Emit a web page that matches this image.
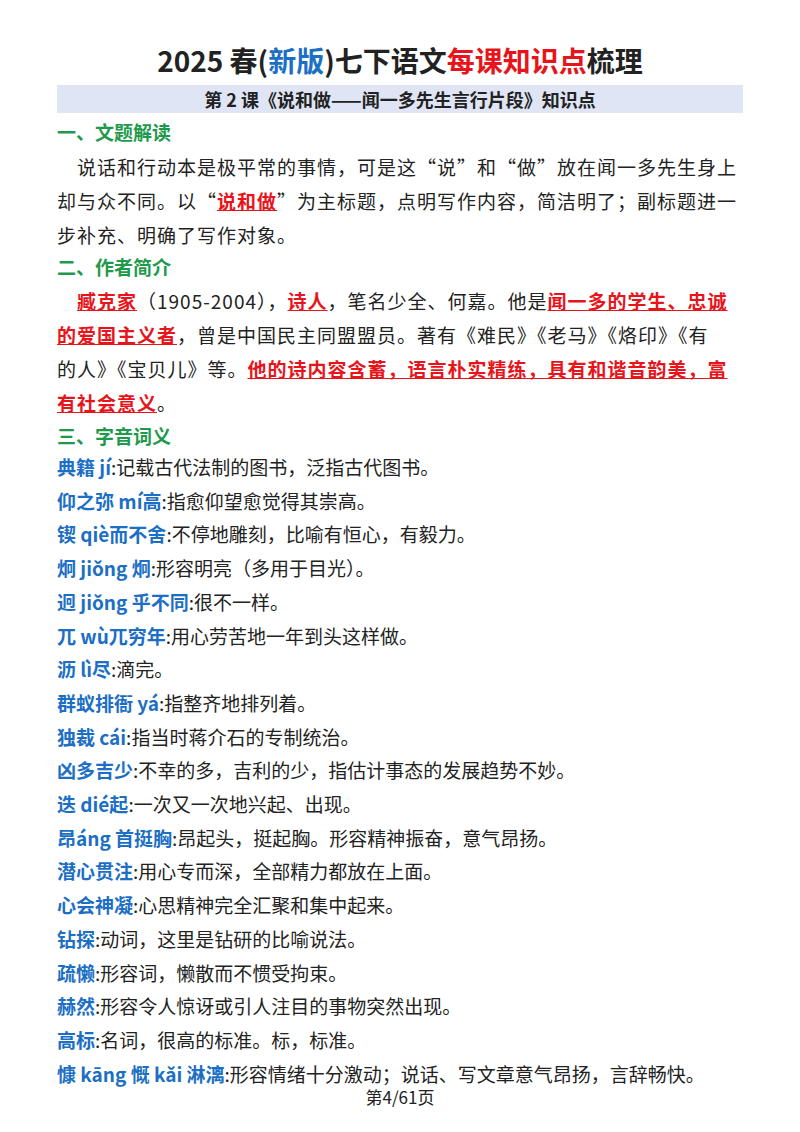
<!DOCTYPE html>
<html><head><meta charset="utf-8">
<script src="https://cdn.jsdelivr.net/npm/chart.js@4"></script>
<style>
body{margin:0;width:800px;height:1132px;background:#fff;font-family:"Noto Sans CJK SC",sans-serif;color:#222;position:relative;overflow:hidden}
.t{position:absolute;white-space:nowrap;font-size:19px}
.h{color:#1f9a4c;font-weight:bold}
.b{color:#1c6fc4;font-weight:bold}
.r{color:#e8141b;font-weight:bold;text-decoration:underline}
</style></head><body>
<div id="page"></div>
<script>
// 标题
var titulo = '2025 春(<span style="color:#1c6fc4">新版</span>)七下语文<span style="color:#e8141b">每课知识点</span>梳理';
var subtitulo = '第 2 课《说和做——闻一多先生言行片段》知识点';
// 各段落（每行一条）
var seccion1 = ['一、文题解读'];
var parrafo1 = [
  '　说话和行动本是极平常的事情，可是这“说”和“做”放在闻一多先生身上',
  '却与众不同。以“<span class="r">说和做</span>”为主标题，点明写作内容，简洁明了；副标题进一',
  '步补充、明确了写作对象。'];
var seccion2 = ['二、作者简介'];
var parrafo2 = [
  '　<span class="r">臧克家</span>（1905-2004），<span class="r">诗人</span>，笔名少全、何嘉。他是<span class="r">闻一多的学生、忠诚</span>',
  '<span class="r">的爱国主义者</span>，曾是中国民主同盟盟员。著有《难民》《老马》《烙印》《有',
  '的人》《宝贝儿》等。<span class="r">他的诗内容含蓄，语言朴实精练，具有和谐音韵美，富</span>',
  '<span class="r">有社会意义</span>。'];
var seccion3 = ['三、字音词义'];
var terminos = ['典籍 jí','仰之弥 mí高','锲 qiè而不舍','炯 jiǒng 炯','迥 jiǒng 乎不同','兀 wù兀穷年','沥 lì尽','群蚁排衙 yá','独裁 cái','凶多吉少','迭 dié起','昂áng 首挺胸','潜心贯注','心会神凝','钻探','疏懒','赫然','高标','慷 kāng 慨 kǎi 淋漓'];
var definiciones = ['记载古代法制的图书，泛指古代图书。','指愈仰望愈觉得其崇高。','不停地雕刻，比喻有恒心，有毅力。','形容明亮（多用于目光）。','很不一样。','用心劳苦地一年到头这样做。','滴完。','指整齐地排列着。','指当时蒋介石的专制统治。','不幸的多，吉利的少，指估计事态的发展趋势不妙。','一次又一次地兴起、出现。','昂起头，挺起胸。形容精神振奋，意气昂扬。','用心专而深，全部精力都放在上面。','心思精神完全汇聚和集中起来。','动词，这里是钻研的比喻说法。','形容词，懒散而不惯受拘束。','形容令人惊讶或引人注目的事物突然出现。','名词，很高的标准。标，标准。','形容情绪十分激动；说话、写文章意气昂扬，言辞畅快。'];
var pie = '第4/61页';

var page = document.getElementById('page');
function add(y, html, cls, extra){
  var d = document.createElement('div');
  d.className = 't ' + (cls||'');
  d.style.left = '57px'; d.style.top = (y-15) + 'px';
  d.innerHTML = html;
  if (extra) Object.assign(d.style, extra);
  page.appendChild(d);
}
add(44, titulo, '', {fontSize:'28px',fontWeight:'bold',left:'0',width:'800px',textAlign:'center',top:'40px'});
add(98, subtitulo, '', {fontWeight:'bold',fontSize:'18px',background:'#dfe5f4',left:'57px',width:'686px',textAlign:'center',top:'85px',height:'28px',lineHeight:'28px'});
add(133, seccion1[0], 'h');
parrafo1.forEach(function(l,i){ add(168+i*34, l, '', {letterSpacing:'1px'}); });
add(268, seccion2[0], 'h');
parrafo2.forEach(function(l,i){ add(302+i*34, l, '', {letterSpacing:'1px'}); });
add(437, seccion3[0], 'h');
terminos.forEach(function(t,i){ add(468+i*33.7, '<span class="b">'+t+'</span>:'+definiciones[i]); });
add(1097, pie, '', {left:'0',width:'800px',textAlign:'center',fontSize:'17px',top:'1084px'});
</script>
</body></html>
